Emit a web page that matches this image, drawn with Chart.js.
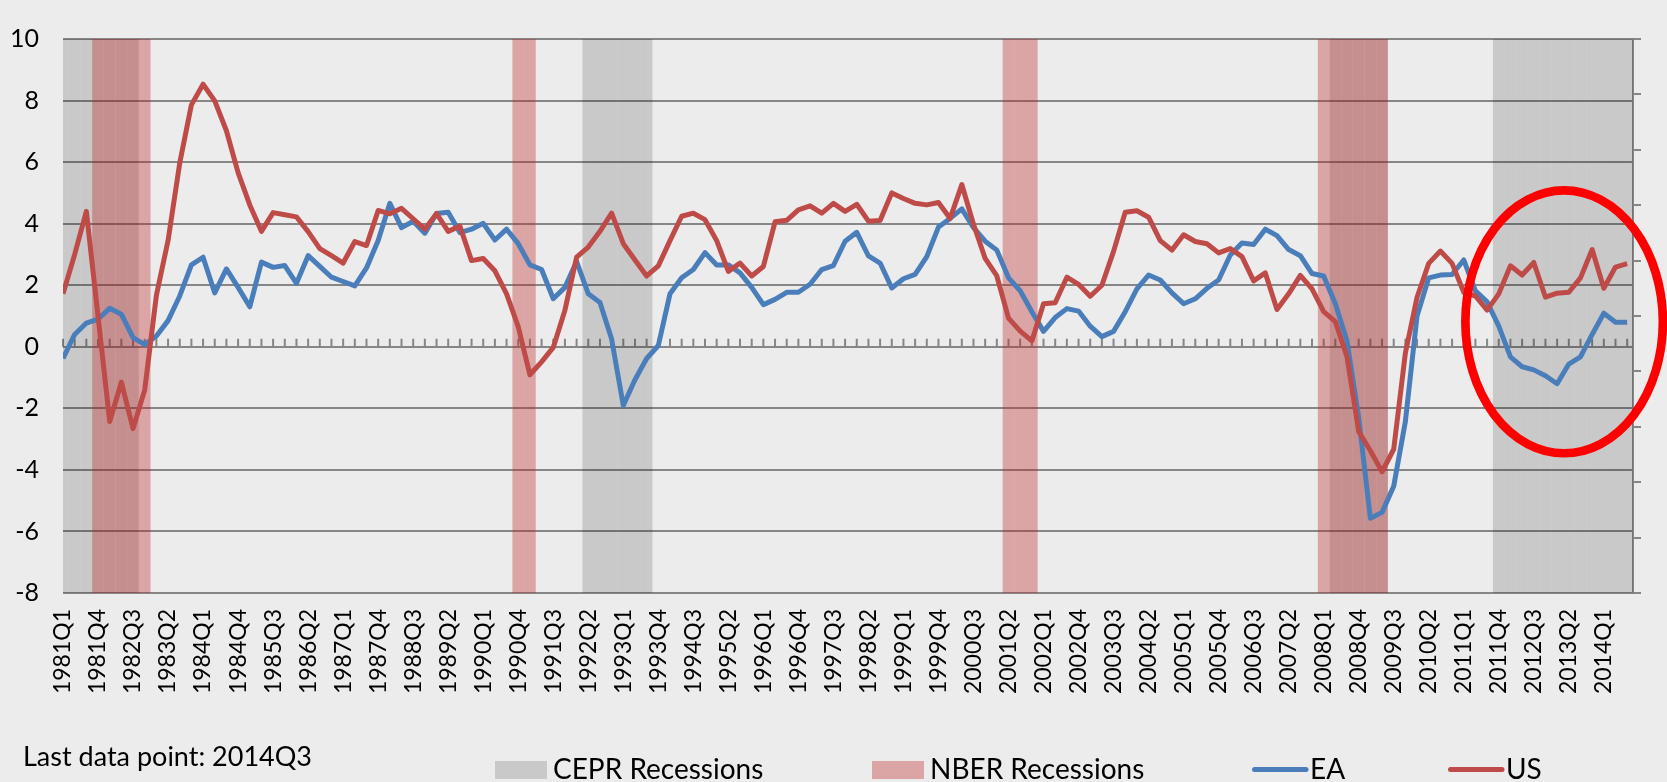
<!DOCTYPE html>
<html><head><meta charset="utf-8">
<script src="https://cdn.jsdelivr.net/npm/chart.js@4.4.1/dist/chart.umd.min.js"></script>
<style>
html,body{margin:0;padding:0;background:#ECECEC;}
canvas{display:block;}
</style></head><body>
<canvas id="c" width="1667" height="782"></canvas>
<script>
// ---------- DATA ----------
const quarters = [
'1981Q1','1981Q2','1981Q3','1981Q4','1982Q1','1982Q2','1982Q3','1982Q4',
'1983Q1','1983Q2','1983Q3','1983Q4','1984Q1','1984Q2','1984Q3','1984Q4',
'1985Q1','1985Q2','1985Q3','1985Q4','1986Q1','1986Q2','1986Q3','1986Q4',
'1987Q1','1987Q2','1987Q3','1987Q4','1988Q1','1988Q2','1988Q3','1988Q4',
'1989Q1','1989Q2','1989Q3','1989Q4','1990Q1','1990Q2','1990Q3','1990Q4',
'1991Q1','1991Q2','1991Q3','1991Q4','1992Q1','1992Q2','1992Q3','1992Q4',
'1993Q1','1993Q2','1993Q3','1993Q4','1994Q1','1994Q2','1994Q3','1994Q4',
'1995Q1','1995Q2','1995Q3','1995Q4','1996Q1','1996Q2','1996Q3','1996Q4',
'1997Q1','1997Q2','1997Q3','1997Q4','1998Q1','1998Q2','1998Q3','1998Q4',
'1999Q1','1999Q2','1999Q3','1999Q4','2000Q1','2000Q2','2000Q3','2000Q4',
'2001Q1','2001Q2','2001Q3','2001Q4','2002Q1','2002Q2','2002Q3','2002Q4',
'2003Q1','2003Q2','2003Q3','2003Q4','2004Q1','2004Q2','2004Q3','2004Q4',
'2005Q1','2005Q2','2005Q3','2005Q4','2006Q1','2006Q2','2006Q3','2006Q4',
'2007Q1','2007Q2','2007Q3','2007Q4','2008Q1','2008Q2','2008Q3','2008Q4',
'2009Q1','2009Q2','2009Q3','2009Q4','2010Q1','2010Q2','2010Q3','2010Q4',
'2011Q1','2011Q2','2011Q3','2011Q4','2012Q1','2012Q2','2012Q3','2012Q4',
'2013Q1','2013Q2','2013Q3','2013Q4','2014Q1','2014Q2','2014Q3'
];

const ea = [
-0.38, 0.40, 0.77, 0.90, 1.25, 1.06, 0.30, 0.07,
0.35, 0.85, 1.65, 2.66, 2.91, 1.75, 2.53, 1.93,
1.30, 2.75, 2.58, 2.64, 2.06, 2.96, 2.61, 2.26,
2.12, 1.98, 2.56, 3.45, 4.66, 3.87, 4.08, 3.69,
4.33, 4.37, 3.71, 3.82, 4.01, 3.47, 3.82, 3.35,
2.66, 2.51, 1.56, 1.93, 2.77, 1.72, 1.44, 0.25,
-1.91, -1.07, -0.38, 0.04, 1.72, 2.24, 2.51, 3.06,
2.66, 2.66, 2.40, 1.93, 1.37, 1.54, 1.77, 1.77,
2.03, 2.51, 2.64, 3.43, 3.72, 2.95, 2.72, 1.91,
2.21, 2.35, 2.93, 3.89, 4.17, 4.48, 3.87, 3.43,
3.14, 2.24, 1.82, 1.14, 0.50, 0.95, 1.24, 1.16,
0.67, 0.33, 0.50, 1.14, 1.88, 2.33, 2.17, 1.75,
1.40, 1.56, 1.90, 2.17, 2.98, 3.37, 3.32, 3.82,
3.61, 3.16, 2.96, 2.38, 2.30, 1.40, 0.19, -2.30,
-5.57, -5.38, -4.53, -2.43, 1.00, 2.24, 2.33, 2.35,
2.82, 1.82, 1.46, 0.67, -0.33, -0.65, -0.75, -0.94,
-1.20, -0.56, -0.33, 0.40, 1.09, 0.80, 0.80
];

const us = [
1.72, 3.00, 4.40, 1.00, -2.43, -1.15, -2.66, -1.40,
1.67, 3.45, 5.97, 7.86, 8.53, 7.99, 7.02, 5.66,
4.61, 3.75, 4.36, 4.29, 4.22, 3.74, 3.19, 2.96,
2.72, 3.42, 3.29, 4.43, 4.32, 4.50, 4.16, 3.82,
4.33, 3.75, 3.92, 2.80, 2.87, 2.47, 1.72, 0.65,
-0.91, -0.49, -0.02, 1.19, 2.91, 3.24, 3.75, 4.34,
3.35, 2.82, 2.30, 2.63, 3.45, 4.24, 4.34, 4.13,
3.45, 2.45, 2.72, 2.30, 2.61, 4.06, 4.11, 4.45,
4.58, 4.34, 4.66, 4.40, 4.63, 4.08, 4.10, 5.00,
4.82, 4.66, 4.61, 4.69, 4.17, 5.27, 3.98, 2.87,
2.30, 0.93, 0.51, 0.19, 1.40, 1.43, 2.26, 2.03,
1.64, 2.00, 3.10, 4.37, 4.42, 4.21, 3.45, 3.14,
3.64, 3.42, 3.35, 3.05, 3.19, 2.93, 2.14, 2.40,
1.21, 1.72, 2.32, 1.88, 1.14, 0.82, -0.33, -2.75,
-3.38, -4.06, -3.33, -0.20, 1.61, 2.71, 3.11, 2.71,
1.77, 1.65, 1.19, 1.72, 2.63, 2.33, 2.74, 1.61,
1.74, 1.77, 2.24, 3.16, 1.90, 2.59, 2.70
];

// Recession quarters (shaded)
const ceprRecessions = [
'1981Q1','1981Q2','1981Q3','1981Q4','1982Q1','1982Q2','1982Q3',
'1992Q2','1992Q3','1992Q4','1993Q1','1993Q2','1993Q3',
'2008Q2','2008Q3','2008Q4','2009Q1','2009Q2',
'2011Q4','2012Q1','2012Q2','2012Q3','2012Q4','2013Q1','2013Q2','2013Q3','2013Q4',
'2014Q1','2014Q2','2014Q3'
];
const nberRecessions = [
'1981Q4','1982Q1','1982Q2','1982Q3','1982Q4',
'1990Q4','1991Q1',
'2001Q2','2001Q3','2001Q4',
'2008Q1','2008Q2','2008Q3','2008Q4','2009Q1','2009Q2'
];

// Tick labels shown on the category axis
const xTickLabels = [
'1981Q1','1981Q4','1982Q3','1983Q2','1984Q1','1984Q4','1985Q3','1986Q2','1987Q1',
'1987Q4','1988Q3','1989Q2','1990Q1','1990Q4','1991Q3','1992Q2','1993Q1','1993Q4',
'1994Q3','1995Q2','1996Q1','1996Q4','1997Q3','1998Q2','1999Q1','1999Q4','2000Q3',
'2001Q2','2002Q1','2002Q4','2003Q3','2004Q2','2005Q1','2005Q4','2006Q3','2007Q2',
'2008Q1','2008Q4','2009Q3','2010Q2','2011Q1','2011Q4','2012Q3','2013Q2','2014Q1'
];
const yTickValues = [-8, -6, -4, -2, 0, 2, 4, 6, 8, 10];
const y2TickValues = [0, 1, 2, 3, 4, 5, 6, 7, 8, 9, 10];
const footnote = 'Last data point: 2014Q3';

// ---------- STYLE / LAYOUT ----------
const GRID = '#868686';
const BLUE = '#4A7EBB';
const RED = '#BE4B48';
const CEPR_FILL = 'rgba(0,0,0,0.145)';
const NBER_FILL = 'rgba(190,35,35,0.35)';
const FONT = 'Lato, "Open Sans", sans-serif';

const Y_MIN = yTickValues[0], Y_MAX = yTickValues[yTickValues.length - 1];

function bandData(list) {
  const out = [];
  quarters.forEach((q, i) => { if (list.includes(q)) out.push({x: i, y: [Y_MIN, Y_MAX]}); });
  return out;
}
const toXY = arr => arr.map((v, i) => ({x: i, y: v}));

// highlight ellipse (annotation) in data units
const highlight = {x: 128.6, y: 0.81, rx: 8.46, ry: 4.27};

const decorations = {
  id: 'decorations',
  beforeDatasetsDraw(chart) {
    const {ctx, scales: {x, y}} = chart;
    const y0 = y.getPixelForValue(0);
    ctx.save();
    ctx.strokeStyle = GRID;
    ctx.lineWidth = 2;
    ctx.beginPath();
    quarters.forEach((q, i) => {
      const px = x.getPixelForValue(i);
      ctx.moveTo(px, y0);
      ctx.lineTo(px, y0 - 8);
    });
    ctx.stroke();
    ctx.restore();
  },
  afterDraw(chart) {
    const {ctx, scales: {x, y}} = chart;
    ctx.save();
    // red ellipse annotation
    const cx = x.getPixelForValue(highlight.x);
    const cy = y.getPixelForValue(highlight.y);
    const rx = x.getPixelForValue(highlight.x + highlight.rx) - cx;
    const ry = cy - y.getPixelForValue(highlight.y + highlight.ry);
    ctx.beginPath();
    ctx.ellipse(cx, cy, rx, ry, 0, 0, Math.PI * 2);
    ctx.strokeStyle = '#FF0000';
    ctx.lineWidth = 8.7;
    ctx.stroke();

    // footnote
    ctx.fillStyle = '#000';
    ctx.textBaseline = 'alphabetic';
    ctx.textAlign = 'left';
    ctx.font = '27px ' + FONT;
    ctx.fillText(footnote, 23, 766);

    // legend
    const ds = chart.data.datasets;
    const items = [
      {d: ds[3], kind: 'box', x: 495},
      {d: ds[2], kind: 'box', x: 872},
      {d: ds[1], kind: 'line', x: 1252},
      {d: ds[0], kind: 'line', x: 1448}
    ];
    ctx.font = '28px ' + FONT;
    items.forEach(it => {
      if (it.kind === 'box') {
        ctx.fillStyle = it.d.backgroundColor;
        ctx.fillRect(it.x, 761, 52, 18);
      } else {
        ctx.beginPath();
        ctx.strokeStyle = it.d.borderColor;
        ctx.lineWidth = 5;
        ctx.lineCap = 'round';
        ctx.moveTo(it.x + 2.5, 769.5);
        ctx.lineTo(it.x + 54, 769.5);
        ctx.stroke();
      }
      ctx.fillStyle = '#000';
      ctx.fillText(it.d.label, it.x + 58, 778.5);
    });
    ctx.restore();
  }
};

new Chart(document.getElementById('c'), {
  type: 'line',
  data: {
    datasets: [
      {type: 'line', label: 'US', data: toXY(us), borderColor: RED, backgroundColor: RED,
       borderWidth: 5, pointRadius: 0, tension: 0, borderJoinStyle: 'round', clip: 0, order: 0},
      {type: 'line', label: 'EA', data: toXY(ea), borderColor: BLUE, backgroundColor: BLUE,
       borderWidth: 5, pointRadius: 0, tension: 0, borderJoinStyle: 'round', clip: 0, order: 1},
      {type: 'bar', label: 'NBER Recessions', data: bandData(nberRecessions), backgroundColor: NBER_FILL,
       barPercentage: 1, categoryPercentage: 1, inflateAmount: 0, borderWidth: 0, grouped: false, clip: 0, order: 2},
      {type: 'bar', label: 'CEPR Recessions', data: bandData(ceprRecessions), backgroundColor: CEPR_FILL,
       barPercentage: 1, categoryPercentage: 1, inflateAmount: 0, borderWidth: 0, grouped: false, clip: 0, order: 3}
    ]
  },
  options: {
    responsive: false,
    animation: false,
    devicePixelRatio: 1,
    layout: {padding: {top: 22, left: 0, right: 0, bottom: 0}},
    plugins: {legend: {display: false}, tooltip: {enabled: false}},
    scales: {
      x: {
        type: 'linear', min: 0, max: quarters.length - 0.5, offset: false,
        grid: {display: false, drawTicks: false},
        border: {display: false},
        afterBuildTicks: s => { s.ticks = xTickLabels.map(l => ({value: quarters.indexOf(l)})); },
        ticks: {autoSkip: false, minRotation: 90, maxRotation: 90, padding: 16, color: '#000',
                font: {family: FONT, size: 23}, callback: v => quarters[v]},
        afterFit: s => { s.height = 189; }
      },
      y: {
        min: Y_MIN, max: Y_MAX,
        afterBuildTicks: s => { s.ticks = yTickValues.map(v => ({value: v})); },
        ticks: {padding: 24, color: '#000', font: {family: FONT, size: 25}},
        grid: {color: GRID, lineWidth: 2, drawTicks: false},
        border: {display: false},
        afterFit: s => { s.width = 63; }
      },
      y2: {
        position: 'right', min: y2TickValues[0], max: y2TickValues[y2TickValues.length - 1],
        afterBuildTicks: s => { s.ticks = y2TickValues.map(v => ({value: v})); },
        ticks: {callback: () => ''},
        grid: {drawOnChartArea: false, drawTicks: true, tickLength: 8, color: GRID, lineWidth: 2},
        border: {display: true, color: GRID, width: 2},
        afterFit: s => { s.width = 34; }
      }
    }
  },
  plugins: [decorations]
});
</script>
</body></html>
